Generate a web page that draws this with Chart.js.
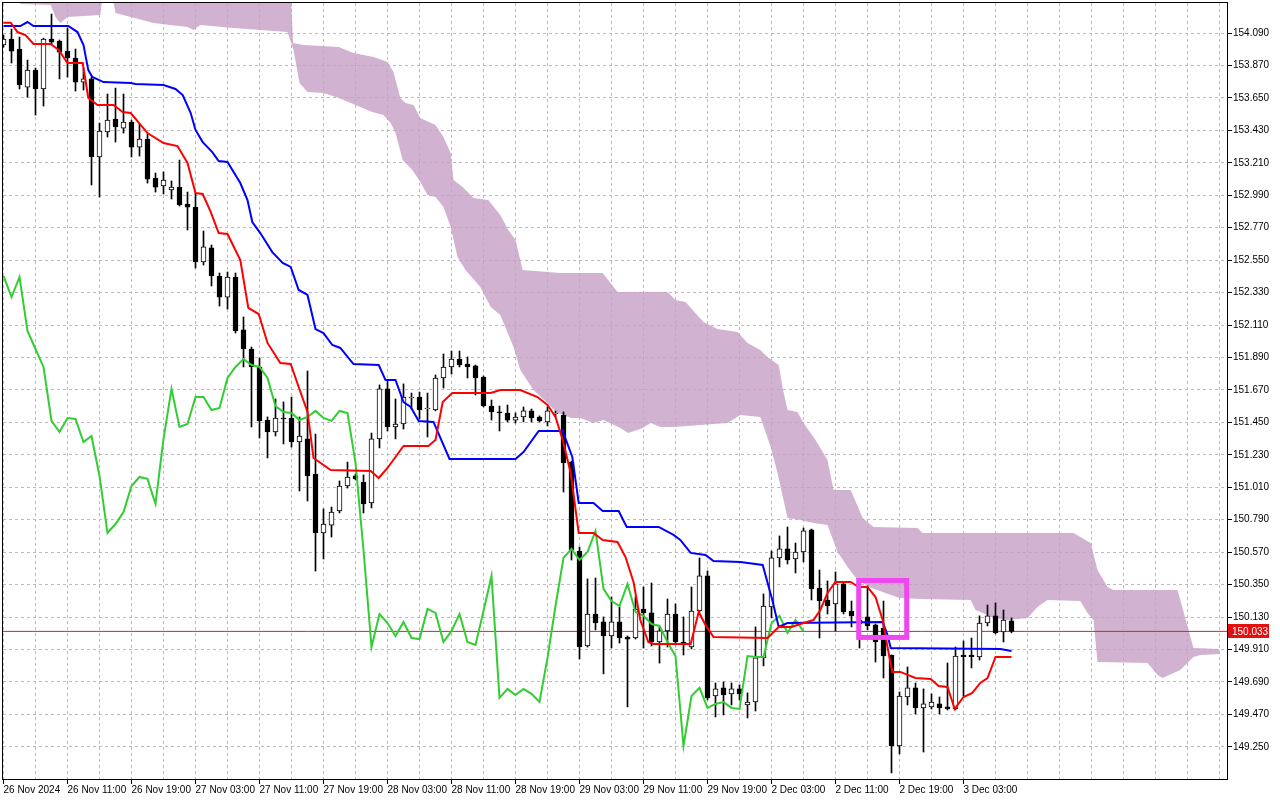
<!DOCTYPE html>
<html>
<head>
<meta charset="utf-8">
<script src="https://cdn.jsdelivr.net/npm/chart.js@4.4.1/dist/chart.umd.min.js"></script>
<style>
  html, body { margin: 0; padding: 0; background: #fff; }
  #chart { display: block; }
</style>
</head>
<body>
<canvas id="chart" width="1280" height="800"></canvas>
<script>
// hourly bars, 26 Nov 2024 03:00 -> 3 Dec 2024 (weekend gap skipped)
const open = [154.009,154.050,153.982,153.724,153.839,153.711,154.050,154.036,153.968,153.921,
  153.758,153.779,153.250,153.419,153.507,153.446,153.487,153.317,153.372,153.107,
  153.053,153.026,153.046,152.931,152.910,152.538,152.633,152.443,152.300,152.436,
  152.077,151.948,151.826,151.466,151.385,151.480,151.480,151.317,151.338,151.100,
  150.700,150.754,150.849,151.019,151.087,151.046,150.904,151.338,151.677,151.419,
  151.439,151.616,151.622,151.541,151.534,151.751,151.826,151.880,151.846,151.833,
  151.758,151.561,151.521,151.514,151.466,151.487,151.528,151.487,151.453,151.507,
  151.500,151.181,150.578,149.934,150.151,150.097,150.002,150.097,149.995,149.988,
  150.185,150.158,149.961,150.036,150.151,149.961,149.927,150.171,150.409,149.595,
  149.650,149.609,149.643,149.534,149.554,149.853,150.199,150.531,150.592,150.524,
  150.571,150.721,150.327,150.246,150.219,150.355,150.171,150.110,150.131,150.077,
  150.056,149.873,149.256,149.588,149.650,149.514,149.521,149.541,149.521,149.507,
  149.873,149.873,149.859,150.090,150.138,150.029,150.104];
const high = [154.077,154.117,154.063,153.907,153.853,154.056,154.219,154.043,154.124,153.982,
  153.853,153.792,153.480,153.677,153.717,153.677,153.500,153.473,153.406,153.141,
  153.148,153.087,153.229,153.012,153.005,152.748,152.653,152.463,152.470,152.463,
  152.165,151.961,151.887,151.487,151.609,151.589,151.622,151.487,151.799,151.371,
  150.863,150.876,151.053,151.181,151.100,151.094,151.378,151.704,151.731,151.609,
  151.711,151.649,151.656,151.649,151.772,151.914,151.934,151.934,151.894,151.839,
  151.765,151.602,151.561,151.568,151.514,151.555,151.541,151.494,151.555,151.528,
  151.521,151.188,150.605,150.389,150.395,150.131,150.266,150.199,150.002,150.266,
  150.334,150.361,150.063,150.253,150.219,150.131,150.334,150.531,150.443,149.683,
  149.690,149.683,149.670,149.616,150.063,150.287,150.578,150.680,150.741,150.632,
  150.734,150.727,150.449,150.375,150.436,150.368,150.239,150.165,150.341,150.083,
  150.239,149.873,149.622,149.792,149.683,149.643,149.609,149.588,149.819,149.927,
  149.968,149.988,150.138,150.212,150.226,150.178,150.124];
const low = [153.995,153.887,153.711,153.656,153.534,153.595,154.016,153.779,153.792,153.697,
  153.704,153.060,152.978,153.385,153.351,153.412,153.250,153.256,153.073,153.012,
  152.999,152.965,152.917,152.755,152.497,152.517,152.375,152.239,152.219,152.056,
  151.826,151.419,151.344,151.209,151.358,151.304,151.283,150.985,150.917,150.442,
  150.524,150.673,150.836,151.005,151.060,150.836,150.870,151.277,151.392,151.338,
  151.405,151.541,151.473,151.351,151.528,151.683,151.778,151.826,151.751,151.636,
  151.555,151.466,151.392,151.453,151.446,151.453,151.453,151.453,151.426,151.487,
  150.978,150.517,149.846,149.927,150.043,149.745,149.920,149.954,149.521,149.981,
  149.920,149.934,149.818,149.927,149.941,149.873,149.914,150.165,149.568,149.453,
  149.466,149.534,149.568,149.446,149.493,149.799,150.124,150.470,150.490,150.429,
  150.504,150.246,149.988,150.151,150.036,150.151,150.063,149.920,150.043,149.825,
  149.717,149.073,149.202,149.534,149.473,149.215,149.507,149.473,149.500,149.500,
  149.595,149.785,149.839,150.070,150.016,149.961,150.023];
const close = [154.050,153.968,153.738,153.839,153.711,154.050,154.029,153.961,153.921,153.758,
  153.779,153.250,153.426,153.500,153.453,153.487,153.317,153.372,153.100,153.046,
  153.094,153.046,152.924,152.910,152.538,152.640,152.443,152.300,152.436,152.070,
  151.948,151.826,151.460,151.385,151.480,151.473,151.317,151.358,151.087,150.700,
  150.761,150.842,151.019,151.080,151.067,150.897,151.338,151.677,151.419,151.439,
  151.622,151.622,151.534,151.548,151.751,151.826,151.880,151.839,151.826,151.751,
  151.561,151.521,151.514,151.466,151.487,151.528,151.480,151.460,151.528,151.514,
  151.175,150.585,149.927,150.151,150.090,150.002,150.097,149.988,149.981,150.185,
  150.158,149.961,150.036,150.151,149.961,149.941,150.171,150.409,149.582,149.643,
  149.602,149.643,149.609,149.554,149.853,150.205,150.531,150.592,150.517,150.571,
  150.714,150.321,150.239,150.205,150.355,150.165,150.138,150.083,150.070,149.961,
  149.866,149.256,149.595,149.650,149.514,149.541,149.554,149.514,149.507,149.866,
  149.859,149.859,150.090,150.138,150.023,150.110,150.033];

// [bar, price] vertices
const tenkan = [[0,154.160],[0.9,154.160],[1.75,154.097],[2.75,154.077],[3.75,154.016],[5.9,154.016],
  [6.9,153.975],[8,153.887],[9.9,153.887],[10.6,153.650],[11.75,153.602],[13.75,153.602],[14.9,153.555],
  [15.9,153.548],[18,153.412],[20,153.344],[21.75,153.324],[23,153.209],[24,153.005],[24.9,152.999],
  [25.9,152.877],[26.9,152.734],[28,152.728],[29.6,152.551],[30.6,152.226],[31.9,152.185],[33,151.989],
  [34.6,151.853],[35.9,151.846],[36.9,151.690],[38,151.521],[38.75,151.209],[40.9,151.127],[45.9,151.121],
  [46.9,151.073],[48,151.141],[50,151.290],[53.1,151.290],[54,151.331],[54.9,151.588],[56.1,151.649],
  [60.9,151.649],[62.1,151.670],[64.6,151.670],[66.75,151.622],[68,151.568],[69,151.487],[69.9,151.331],
  [70.9,151.107],[71.9,150.700],[73.75,150.700],[74.9,150.653],[76.75,150.639],[77.75,150.537],
  [78.75,150.368],[79.6,150.110],[80.6,149.961],[81.25,149.948],[85.9,149.948],[86.9,150.165],
  [87.75,150.077],[88.75,149.995],[95.5,149.988],[96.9,150.063],[98.5,150.063],[99.6,150.083],
  [101.25,150.110],[102.1,150.178],[103,150.293],[104,150.368],[105.9,150.368],[106.9,150.334],
  [108,150.334],[109,150.266],[109.9,150.110],[110.5,149.927],[111.1,149.758],[112.1,149.758],
  [114,149.717],[115.9,149.710],[116.9,149.663],[118,149.656],[118.9,149.507],[120,149.588],
  [121.1,149.616],[122.1,149.683],[123,149.717],[124,149.860],[126,149.860]];
const kijun = [[0,154.138],[2.1,154.138],[3,154.165],[3.75,154.138],[8.1,154.138],[9.25,154.097],
  [10,154.009],[10.6,153.839],[11.1,153.792],[12.5,153.758],[15.9,153.751],[16.5,153.745],[20,153.738],
  [21.5,153.711],[22.4,153.670],[23.4,153.548],[24,153.433],[24.9,153.351],[26.1,153.283],[26.9,153.222],
  [28,153.216],[29.6,153.073],[30.5,152.958],[31.1,152.809],[32.1,152.734],[33.6,152.605],[34.9,152.531],
  [35.9,152.504],[36.9,152.348],[38,152.314],[39,152.083],[40,152.056],[41.1,151.975],[42.1,151.955],
  [43.75,151.846],[46.9,151.839],[47.75,151.738],[49,151.738],[50,151.588],[50.9,151.555],[51.9,151.460],
  [53.75,151.453],[55.75,151.202],[64,151.202],[65,151.249],[66.9,151.392],[69.9,151.392],[71.1,151.216],
  [71.9,150.904],[73.75,150.904],[74.9,150.849],[76.9,150.849],[77.9,150.741],[81.9,150.741],
  [83.75,150.687],[84.6,150.653],[85.9,150.565],[87.75,150.551],[88.75,150.510],[92.1,150.504],
  [94.9,150.483],[96.1,150.246],[96.9,150.063],[98,150.090],[109.9,150.097],[110.5,150.009],
  [110.9,149.920],[124.6,149.914],[126,149.900]];
// cloud edges (shifted 26 bars forward), values above the chart top are cut off
const cloudTop = [[0,154.5],[35.8,154.5],[36.2,154.022],[37.5,154.009],[41.9,153.995],[43.75,153.955],
  [46.25,153.928],[48,153.894],[48.75,153.826],[49.6,153.650],[50.25,153.616],[51.25,153.602],
  [52.1,153.514],[54,153.467],[55,153.385],[55.9,153.277],[56.25,153.094],[57.4,153.046],[58.75,152.972],
  [60.6,152.958],[62.1,152.856],[63.1,152.755],[64,152.687],[64.9,152.483],[69.6,152.463],[74.9,152.463],
  [76.75,152.334],[83,152.334],[84,152.280],[85.25,152.267],[87.5,152.131],[89.25,152.083],
  [91.75,152.063],[93,151.989],[94.6,151.941],[95.5,151.894],[96.9,151.839],[97.4,151.684],[98,151.534],
  [99.25,151.521],[100,151.446],[101.5,151.331],[103,151.195],[103.75,150.992],[105.9,150.992],
  [107.4,150.802],[108.75,150.741],[114.25,150.734],[114.9,150.700],[133.75,150.700],[135.9,150.632],
  [136.75,150.449],[138,150.334],[138.75,150.314],[146.75,150.314],[148.75,149.921],[152,149.914]];
const cloudBottom = [[0,154.4],[2.0,154.4],[2.1,154.287],[5.9,154.280],[6.5,154.199],[7.1,154.158],
  [8,154.199],[12.1,154.212],[12.5,154.4],[13.4,154.4],[14,154.226],[18.75,154.158],[23,154.131],
  [23.75,154.111],[24.6,154.144],[28.75,154.124],[35.5,154.097],[36.25,153.975],[37,153.751],[38,153.690],
  [40,153.683],[41.9,153.650],[44.6,153.589],[46.1,153.555],[47.5,153.534],[48.4,153.480],[49,153.412],
  [49.9,153.229],[51.1,153.161],[52.1,153.080],[53,152.992],[54,152.978],[55,152.910],[55.9,152.775],
  [56.75,152.572],[57.75,152.483],[59.6,152.368],[60.9,152.233],[62.1,152.178],[63.75,151.961],
  [64.6,151.805],[66.25,151.670],[68,151.582],[69.25,151.514],[71,151.480],[72.1,151.480],[73.75,151.446],
  [75,151.466],[77.1,151.412],[78.1,151.378],[79.9,151.412],[80.9,151.446],[82.1,151.419],[83.75,151.419],
  [87.1,151.433],[90.5,151.446],[92.1,151.500],[94.6,151.487],[95.9,151.283],[96.75,151.107],[98,150.802],
  [99.6,150.788],[101.25,150.768],[103,150.754],[104.25,150.571],[105.6,150.463],[106.75,150.382],
  [108.5,150.327],[112,150.260],[114.6,150.253],[120.9,150.246],[121.5,150.178],[123,150.144],
  [123.75,150.124],[125.5,150.110],[128,150.124],[129.25,150.199],[130.5,150.246],[134.6,150.239],
  [135.5,150.158],[136.25,150.110],[136.75,149.826],[143,149.819],[144.25,149.738],[144.9,149.717],
  [147.1,149.771],[148.75,149.860],[149.6,149.873],[152,149.880]];

const xLabels = ['26 Nov 2024','26 Nov 11:00','26 Nov 19:00','27 Nov 03:00','27 Nov 11:00','27 Nov 19:00',
  '28 Nov 03:00','28 Nov 11:00','28 Nov 19:00','29 Nov 03:00','29 Nov 11:00','29 Nov 19:00',
  '2 Dec 03:00','2 Dec 11:00','2 Dec 19:00','3 Dec 03:00'];
const yTicks = [149.250,149.470,149.690,149.910,150.130,150.350,150.570,150.790,151.010,151.230,151.450,
  151.670,151.890,152.110,152.330,152.550,152.770,152.990,153.210,153.430,153.650,153.870,154.090];

const lastPrice = close[close.length - 1];
const boxBars = [106.9, 112.9];
const boxPrices = [150.378, 149.992];

const FONT = '"Liberation Sans", Arial, sans-serif';
const GRID = '#c4b4c4';

const xy = arr => arr.map(p => ({x: p[0], y: p[1]}));
const bodies = open.map((o, i) => ({x: i, y: [o, close[i]]}));
const wicks = low.map((l, i) => ({x: i, y: [l, high[i]]}));
const chikou = close.slice(26).map((c, j) => ({x: j, y: c}));

const overlay = {
  id: 'overlay',
  afterDatasetsDraw(chart) {
    const {ctx, chartArea: a, scales: {x, y}} = chart;
    ctx.save();
    // highlighted zone
    const x0 = x.getPixelForValue(boxBars[0]), x1 = x.getPixelForValue(boxBars[1]);
    const y0 = y.getPixelForValue(boxPrices[0]), y1 = y.getPixelForValue(boxPrices[1]);
    ctx.strokeStyle = '#f046f0';
    ctx.lineWidth = 5;
    ctx.strokeRect(x0, y0, x1 - x0, y1 - y0);
    // frame
    ctx.strokeStyle = '#000';
    ctx.lineWidth = 1;
    ctx.strokeRect(Math.round(a.left) - 0.5, Math.round(a.top) - 0.5, Math.round(a.width) + 1, Math.round(a.height) + 1);
    // last price tag
    const py = Math.round(y.getPixelForValue(lastPrice));
    ctx.fillStyle = '#e41010';
    ctx.fillRect(a.right + 1, py - 7, 41, 14);
    ctx.fillStyle = '#fff';
    ctx.font = '10px ' + FONT;
    ctx.textBaseline = 'middle';
    ctx.textAlign = 'left';
    ctx.fillText(lastPrice.toFixed(3), a.right + 5, py + 1);
    ctx.restore();
  }
};

new Chart(document.getElementById('chart'), {
  type: 'bar',
  data: {
    datasets: [
      {type: 'line', label: 'Tenkan', data: xy(tenkan), borderColor: '#ff0000', borderWidth: 2,
       pointRadius: 0, tension: 0, order: 1},
      {type: 'line', label: 'Kijun', data: xy(kijun), borderColor: '#0000ff', borderWidth: 2,
       pointRadius: 0, tension: 0, order: 2},
      {type: 'line', label: 'Chikou', data: chikou, borderColor: '#32cd32', borderWidth: 2,
       pointRadius: 0, tension: 0, order: 3},
      {label: 'Body', data: bodies, grouped: false, barThickness: 5, borderWidth: 1, borderColor: '#000',
       borderSkipped: false,
       backgroundColor: c => close[c.dataIndex] >= open[c.dataIndex] ? '#fff' : '#000', order: 4},
      {label: 'Wick', data: wicks, grouped: false, barThickness: 1, borderWidth: 0,
       backgroundColor: '#000', order: 5},
      {type: 'line', label: 'Last', data: [{x: -1, y: lastPrice}, {x: 160, y: lastPrice}],
       borderColor: 'rgb(200,40,40)', borderWidth: 1, pointRadius: 0, order: 6},
      {type: 'line', label: 'SpanTop', data: xy(cloudTop), borderWidth: 0, pointRadius: 0,
       borderColor: 'rgba(0,0,0,0)', backgroundColor: 'rgba(196,158,196,0.78)',
       fill: {target: 7}, order: 7},
      {type: 'line', label: 'SpanBottom', data: xy(cloudBottom), borderWidth: 0, pointRadius: 0,
       borderColor: 'rgba(0,0,0,0)', fill: false, order: 8}
    ]
  },
  options: {
    responsive: false,
    animation: false,
    events: [],
    layout: {padding: {left: 3, top: 3, right: 0, bottom: 0}},
    plugins: {legend: {display: false}, tooltip: {enabled: false}},
    scales: {
      x: {
        type: 'linear',
        offset: false,
        min: -0.0625,
        max: 152.9375,
        afterBuildTicks: s => { s.ticks = []; for (let v = 0; v <= 152; v += 4) s.ticks.push({value: v}); },
        afterFit: s => { s.height = 21; s.paddingLeft = 0; s.paddingRight = 0; },
        ticks: {
          autoSkip: false, maxRotation: 0, align: 'start', padding: 0, color: '#000',
          font: {family: FONT, size: 10},
          callback: v => (v % 8 === 0 && xLabels[v / 8]) || ''
        },
        grid: {
          offset: false, color: GRID, lineWidth: 1, tickLength: 5,
          tickColor: c => (c.tick && c.tick.value % 8 === 0 && c.tick.value <= 120) ? '#000' : 'rgba(0,0,0,0)'
        },
        border: {display: true, color: '#000', dash: [3, 3]}
      },
      y: {
        type: 'linear',
        position: 'right',
        min: 149.032,
        max: 154.294,
        afterBuildTicks: s => { s.ticks = yTicks.map(v => ({value: v})); },
        afterFit: s => { s.width = 53; s.paddingTop = 0; s.paddingBottom = 0; },
        ticks: {
          autoSkip: false, padding: 1, color: '#000',
          font: {family: FONT, size: 10},
          callback: v => v.toFixed(3)
        },
        grid: {color: GRID, lineWidth: 1, tickLength: 5, tickColor: '#000'},
        border: {display: true, color: '#000', dash: [3, 3]}
      }
    }
  },
  plugins: [overlay]
});
</script>
</body>
</html>
